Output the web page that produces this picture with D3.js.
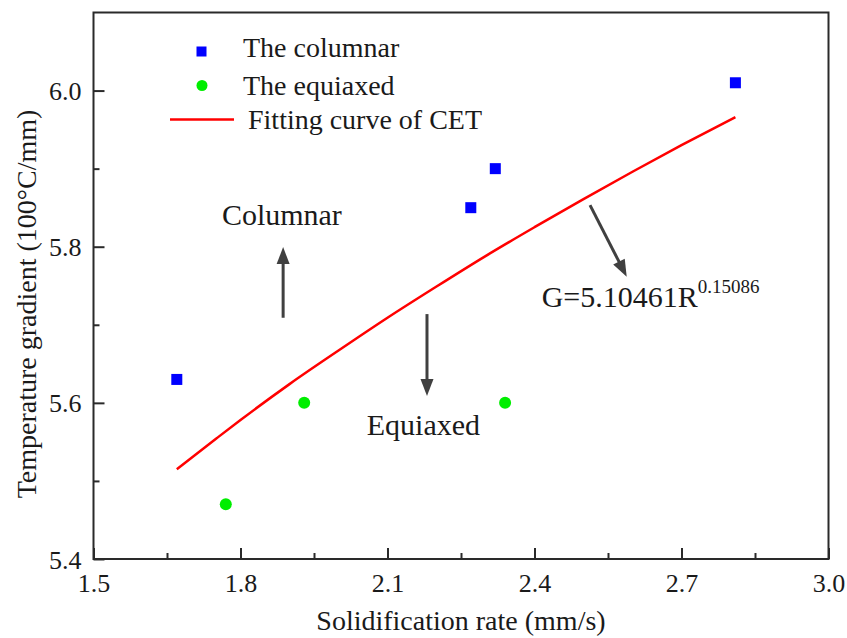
<!DOCTYPE html>
<html>
<head>
<meta charset="utf-8">
<script src="https://cdn.jsdelivr.net/npm/d3@7"></script>
<style>
  html, body { margin: 0; padding: 0; background: #fff; }
  svg text { font-family: "Liberation Serif", "Times New Roman", serif; fill: #1a1a1a; }
</style>
</head>
<body>
<svg id="chart" width="847" height="638"></svg>
<script>
// Solidification rate R (mm/s) vs temperature gradient G (100°C/mm)
const columnarRate = [1.67, 2.27, 2.32, 2.81];
const columnarGradient = [5.63, 5.85, 5.90, 6.01];
const equiaxedRate = [1.77, 1.93, 2.34];
const equiaxedGradient = [5.47, 5.60, 5.60];
// CET fitting curve G = 5.10461 R^0.15086, sampled along R
const fitRate = [1.67, 1.75, 1.80, 1.90, 2.00, 2.10, 2.20, 2.30, 2.40, 2.50, 2.60, 2.70, 2.81];
const fitGradient = [5.515, 5.554, 5.578, 5.624, 5.667, 5.709, 5.749, 5.788, 5.825, 5.861, 5.896, 5.930, 5.966];
const xTicks = [1.5, 1.8, 2.1, 2.4, 2.7, 3.0];
const xMinorTicks = [1.65, 1.95, 2.25, 2.55, 2.85];
const yTicks = [5.4, 5.6, 5.8, 6.0];
const yMinorTicks = [5.5, 5.7, 5.9];
const legendLabels = ["The columnar", "The equiaxed", "Fitting curve of CET"];

const svg = d3.select("#chart");
const plotLeft = 93.5, plotRight = 828.5, plotTop = 12.5, plotBottom = 559;

const x = d3.scaleLinear().domain([1.5, 3.0]).range([plotLeft, plotRight]);
const y = d3.scaleLinear().domain([5.4, 6.1]).range([plotBottom, plotTop]);

const axisColor = "#2a2a2a";

// frame
svg.append("rect")
  .attr("x", plotLeft).attr("y", plotTop)
  .attr("width", plotRight - plotLeft).attr("height", plotBottom - plotTop)
  .attr("fill", "none").attr("stroke", axisColor).attr("stroke-width", 2);

// bottom axis (inward ticks)
const xAxis = svg.append("g").attr("transform", `translate(0,${plotBottom})`)
  .call(d3.axisBottom(x).tickValues(xTicks).tickSize(-11).tickPadding(0)
    .tickFormat(d3.format(".1f")));
xAxis.select(".domain").remove();
xAxis.selectAll(".tick line").attr("stroke", axisColor).attr("stroke-width", 2);
xAxis.selectAll(".tick text")
  .attr("y", 33).attr("dy", 0)
  .style("font-size", "26px").style("font-family", "Liberation Serif").attr("fill", "#1a1a1a");
const xMinor = svg.append("g").attr("transform", `translate(0,${plotBottom})`)
  .call(d3.axisBottom(x).tickValues(xMinorTicks).tickSize(-6).tickFormat(""));
xMinor.select(".domain").remove();
xMinor.selectAll(".tick line").attr("stroke", axisColor).attr("stroke-width", 2);

// left axis (inward ticks)
const yAxis = svg.append("g").attr("transform", `translate(${plotLeft},0)`)
  .call(d3.axisLeft(y).tickValues(yTicks).tickSize(-11).tickPadding(0)
    .tickFormat(d3.format(".1f")));
yAxis.select(".domain").remove();
yAxis.selectAll(".tick line").attr("stroke", axisColor).attr("stroke-width", 2);
yAxis.selectAll(".tick text")
  .attr("x", -12).attr("dy", "0.35em")
  .style("font-size", "26px").style("font-family", "Liberation Serif").attr("fill", "#1a1a1a");
const yMinor = svg.append("g").attr("transform", `translate(${plotLeft},0)`)
  .call(d3.axisLeft(y).tickValues(yMinorTicks).tickSize(-6).tickFormat(""));
yMinor.select(".domain").remove();
yMinor.selectAll(".tick line").attr("stroke", axisColor).attr("stroke-width", 2);

// axis titles
svg.append("text")
  .attr("x", (plotLeft + plotRight) / 2).attr("y", 630)
  .attr("text-anchor", "middle").style("font-size", "28px")
  .text("Solidification rate (mm/s)");
svg.append("text")
  .attr("transform", `translate(36,304) rotate(-90)`)
  .attr("text-anchor", "middle").style("font-size", "28px")
  .text("Temperature gradient (100°C/mm)");

// fitting curve
const fitData = fitRate.map((r, i) => [r, fitGradient[i]]);
svg.append("path")
  .datum(fitData)
  .attr("d", d3.line().x(d => x(d[0])).y(d => y(d[1])).curve(d3.curveMonotoneX))
  .attr("fill", "none").attr("stroke", "#ff0000").attr("stroke-width", 2.5);

// columnar points
const sq = 11;
svg.append("g").selectAll("rect")
  .data(columnarRate.map((r, i) => [r, columnarGradient[i]]))
  .join("rect")
  .attr("x", d => x(d[0]) - sq / 2).attr("y", d => y(d[1]) - sq / 2)
  .attr("width", sq).attr("height", sq)
  .attr("fill", "#0000ff");

// equiaxed points
svg.append("g").selectAll("circle")
  .data(equiaxedRate.map((r, i) => [r, equiaxedGradient[i]]))
  .join("circle")
  .attr("cx", d => x(d[0])).attr("cy", d => y(d[1])).attr("r", 6)
  .attr("fill", "#00ee00");

// legend
const legend = svg.append("g");
legend.append("rect").attr("x", 196.5).attr("y", 46.5).attr("width", 10).attr("height", 10).attr("fill", "#0000ff");
legend.append("circle").attr("cx", 202).attr("cy", 85.5).attr("r", 5.5).attr("fill", "#00ee00");
legend.append("line").attr("x1", 170).attr("x2", 234).attr("y1", 119.5).attr("y2", 119.5)
  .attr("stroke", "#ff0000").attr("stroke-width", 2.5);
const legendY = [57, 95, 129];
const legendX = [243, 243, 248];
legendLabels.forEach((t, i) => {
  legend.append("text").attr("x", legendX[i]).attr("y", legendY[i])
    .style("font-size", "28px").text(t);
});

// annotation arrows
const arrowColor = "#404040";
function arrow(x1, y1, x2, y2) {
  const dx = x2 - x1, dy = y2 - y1, len = Math.hypot(dx, dy);
  const ux = dx / len, uy = dy / len;
  const headLen = 17, headHalf = 6.5;
  const bx = x2 - ux * headLen, by = y2 - uy * headLen;
  svg.append("line").attr("x1", x1).attr("y1", y1).attr("x2", bx + ux * 2).attr("y2", by + uy * 2)
    .attr("stroke", arrowColor).attr("stroke-width", 3);
  svg.append("path")
    .attr("d", `M${x2},${y2} L${bx - uy * headHalf},${by + ux * headHalf} L${bx + uy * headHalf},${by - ux * headHalf} Z`)
    .attr("fill", arrowColor);
}
arrow(x(1.887), y(5.709), x(1.887), y(5.7995));
arrow(x(2.1806), y(5.7137), x(2.1806), y(5.6087));
arrow(x(2.5133), y(5.8533), x(2.5882), y(5.7615));

svg.append("text").attr("x", x(1.762)).attr("y", y(5.8277))
  .style("font-size", "30px").text("Columnar");
svg.append("text").attr("x", x(2.0576)).attr("y", y(5.5588))
  .style("font-size", "30px").text("Equiaxed");
const eq = svg.append("text").attr("x", x(2.4147)).attr("y", y(5.7227)).style("font-size", "30px");
eq.append("tspan").text("G=5.10461R");
eq.append("tspan").attr("dy", -14).style("font-size", "19px").text("0.15086");
</script>
</body>
</html>
